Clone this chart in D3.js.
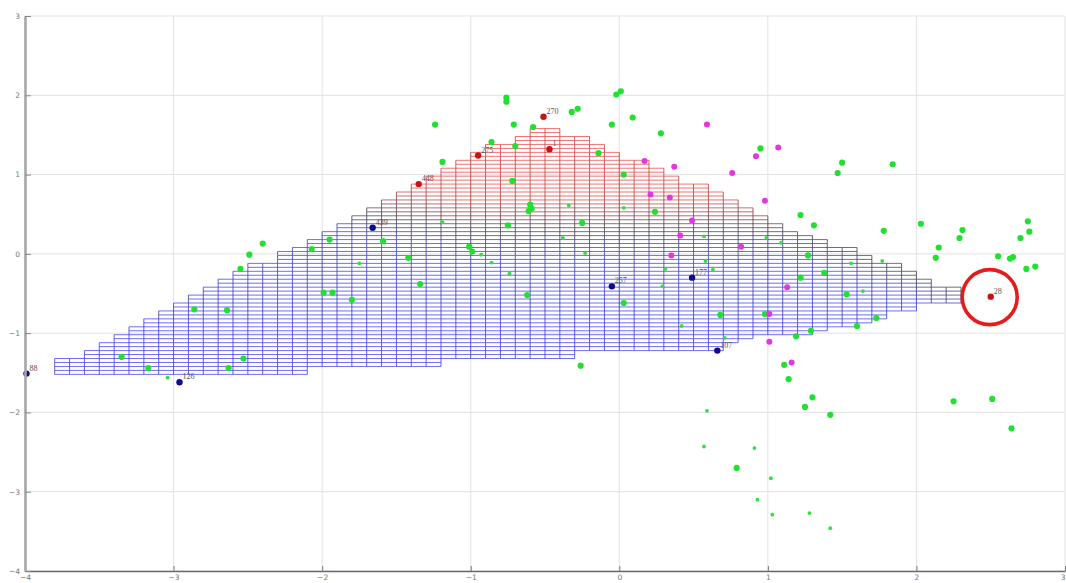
<!DOCTYPE html>
<html>
<head>
<meta charset="utf-8">
<script src="https://cdn.jsdelivr.net/npm/d3@7"></script>
<style>
  html, body { margin: 0; padding: 0; background: #ffffff; }
  svg { display: block; }
</style>
</head>
<body>
<svg id="chart" width="1066" height="583"></svg>
<script>
// ---- axis ticks ----
const xTicks = [-4, -3, -2, -1, 0, 1, 2, 3];
const yTicks = [-4, -3, -2, -1, 0, 1, 2, 3];

// ---- map grid: columns start at meshX0 (width meshDx), rows start at meshY0 (height meshDy) ----
const meshX0 = -3.8, meshDx = 0.1, meshY0 = -1.52, meshDy = 0.05;
const meshTop = [-1.32, -1.32, -1.22, -1.12, -1.02, -0.92, -0.82, -0.72, -0.62, -0.52,
                 -0.42, -0.32, -0.22, -0.12, -0.12, 0.03, 0.08, 0.18, 0.28, 0.38,
                 0.48, 0.58, 0.68, 0.78, 0.88, 0.98, 1.08, 1.18, 1.28, 1.38,
                 1.38, 1.48, 1.58, 1.58, 1.48, 1.48, 1.38, 1.28, 1.18, 1.18,
                 1.08, 0.98, 0.88, 0.88, 0.78, 0.68, 0.58, 0.48, 0.38, 0.28,
                 0.23, 0.18, 0.08, 0.08, -0.02, -0.12, -0.12, -0.22, -0.32, -0.42,
                 -0.42];
const meshBottom = [-1.52, -1.52, -1.52, -1.52, -1.52, -1.52, -1.52, -1.52, -1.52, -1.52,
                    -1.52, -1.52, -1.52, -1.52, -1.52, -1.52, -1.52, -1.42, -1.42, -1.42,
                    -1.42, -1.42, -1.42, -1.42, -1.42, -1.42, -1.32, -1.32, -1.32, -1.32,
                    -1.32, -1.32, -1.32, -1.32, -1.32, -1.22, -1.22, -1.22, -1.22, -1.22,
                    -1.22, -1.22, -1.22, -1.22, -1.22, -1.12, -1.07, -1.02, -1.02, -1.02,
                    -1.02, -0.97, -0.92, -0.92, -0.87, -0.82, -0.72, -0.72, -0.62, -0.62,
                    -0.62];

// ---- samples ----
const greenX = [-0.76, -0.76, -1.24, -0.71, -0.58, -0.32, -0.28, -0.02, 0.01, -0.05,
                0.09, 0.28, -0.86, -0.70, -1.19, -0.14, 0.03, -0.72, -0.60, -0.59,
                -0.61, 0.24, -0.75, -0.25, -1.59, -1.01, -0.99, -1.42, -1.34, -0.62,
                0.03, -0.26, -2.40, -2.49, -2.55, -2.86, -2.64, -3.35, -3.17, -2.63,
                -2.53, -2.07, -1.95, -1.99, -1.93, -1.80, 0.95, 1.50, 1.47, 1.84,
                1.22, 1.31, 1.78, 2.03, 2.31, 2.29, 2.75, 2.76, 2.70, 2.15,
                2.13, 2.55, 2.63, 2.65, 2.74, 2.80, 1.27, 1.38, 1.22, 1.53,
                1.73, 1.60, 0.68, 0.98, 1.19, 1.29, 1.11, 1.14, 1.30, 1.25,
                1.42, 0.79, 2.25, 2.51, 2.64];
const greenY = [1.97, 1.92, 1.63, 1.63, 1.60, 1.79, 1.83, 2.01, 2.05, 1.63,
                1.72, 1.52, 1.41, 1.36, 1.16, 1.27, 1.00, 0.92, 0.62, 0.57,
                0.54, 0.53, 0.36, 0.39, 0.16, 0.09, 0.03, -0.05, -0.38, -0.52,
                -0.62, -1.41, 0.13, -0.01, -0.19, -0.70, -0.71, -1.30, -1.44, -1.44,
                -1.32, 0.06, 0.18, -0.49, -0.49, -0.58, 1.33, 1.15, 1.02, 1.13,
                0.49, 0.36, 0.29, 0.38, 0.30, 0.20, 0.41, 0.28, 0.20, 0.08,
                -0.05, -0.03, -0.06, -0.04, -0.19, -0.16, -0.02, -0.24, -0.30, -0.51,
                -0.81, -0.91, -0.77, -0.76, -1.04, -0.97, -1.40, -1.58, -1.81, -1.93,
                -2.03, -2.70, -1.86, -1.83, -2.20];

const greenSmallX = [-0.34, 0.03, -1.19, -0.38, 0.57, -0.93, -0.86, -0.23, 0.58, -0.74,
                     0.31, 0.29, 0.42, -3.04, -1.75, 0.99, 1.09, 0.63, 1.64, 1.77,
                     1.56, 0.71, 0.59, 0.57, 0.91, 1.02, 0.93, 1.03, 1.28, 1.42];
const greenSmallY = [0.61, 0.58, 0.40, 0.20, 0.22, -0.01, -0.11, 0.01, -0.09, -0.25,
                     -0.19, -0.41, -0.91, -1.56, -0.12, 0.20, 0.14, -0.20, -0.47, -0.09,
                     -0.12, -1.06, -1.98, -2.43, -2.45, -2.83, -3.10, -3.29, -3.27, -3.46];

const magentaX = [0.59, 0.17, 0.37, 0.21, 0.34, 0.49, 0.41, 0.35, 1.07, 0.92,
                  0.76, 0.98, 0.82, 1.01, 1.01, 1.16, 1.13];
const magentaY = [1.63, 1.17, 1.10, 0.75, 0.71, 0.42, 0.23, -0.02, 1.34, 1.23,
                  1.02, 0.67, 0.09, -0.76, -1.11, -1.37, -0.42];

const blueIds = ["88", "126", "439", "257", "177", "107"];
const blueX = [-3.99, -2.96, -1.66, -0.05, 0.49, 0.66];
const blueY = [-1.51, -1.62, 0.33, -0.41, -0.30, -1.22];

const redIds = ["448", "275", "270", "1", "28"];
const redX = [-1.35, -0.95, -0.51, -0.47, 2.50];
const redY = [0.88, 1.24, 1.73, 1.32, -0.54];

const highlightId = "28";

// ---- layout ----
const svg = d3.select("#chart");
const x = d3.scaleLinear().domain([-4, 3]).range([25, 1065]);
const y = d3.scaleLinear().domain([-4, 3]).range([571, 16]);

// grid lines
const grid = svg.append("g").attr("stroke", "#e2e2e2").attr("stroke-width", 1);
grid.selectAll("line.gx").data(xTicks).join("line").attr("class", "gx")
  .attr("x1", d => x(d)).attr("x2", d => x(d)).attr("y1", y(-4)).attr("y2", y(3));
grid.selectAll("line.gy").data(yTicks).join("line").attr("class", "gy")
  .attr("y1", d => y(d)).attr("y2", d => y(d)).attr("x1", x(-4)).attr("x2", x(3));

// ---- mesh ----
const nCols = meshTop.length;
const rowOf = v => Math.round((v - meshY0) / meshDy);
const rowY = k => meshY0 + k * meshDy;
const meshColor = d3.scaleLinear()
  .domain([-0.05, 0.3, 0.75])
  .range(["#4a4af6", "#4c4c5a", "#ee5050"])
  .interpolate(d3.interpolateRgb)
  .clamp(true);
const tone = (cx, cy) => cy - 0.3 * Math.max(0, -1.0 - cx) + 0.7 * Math.max(0, cx - 1.2);

const hSegs = [];
for (let i = 0; i < nCols; i++) {
  const x0 = meshX0 + i * meshDx, x1 = x0 + meshDx;
  for (let k = rowOf(meshBottom[i]); k <= rowOf(meshTop[i]); k++) {
    const yy = rowY(k);
    hSegs.push({ x0, x1, y: yy, c: meshColor(tone(x0 + meshDx / 2, yy)) });
  }
}
const vSegs = [];
for (let j = 0; j <= nCols; j++) {
  const xb = meshX0 + j * meshDx;
  const nb = [j - 1, j].filter(i => i >= 0 && i < nCols);
  const kb = d3.min(nb, i => rowOf(meshBottom[i]));
  const kt = d3.max(nb, i => rowOf(meshTop[i]));
  for (let k = kb; k < kt; k++) {
    const ym = rowY(k + 0.5);
    vSegs.push({ x: xb, y0: rowY(k), y1: rowY(k + 1),
                 c: d3.rgb(meshColor(tone(xb, ym))).darker(0.7).formatHex() });
  }
}
const mesh = svg.append("g").attr("stroke-width", 0.9).attr("stroke-opacity", 0.9);
mesh.selectAll("line.h").data(hSegs).join("line").attr("class", "h")
  .attr("x1", d => x(d.x0)).attr("x2", d => x(d.x1))
  .attr("y1", d => y(d.y)).attr("y2", d => y(d.y))
  .attr("stroke", d => d.c);
mesh.selectAll("line.v").data(vSegs).join("line").attr("class", "v")
  .attr("x1", d => x(d.x)).attr("x2", d => x(d.x))
  .attr("y1", d => y(d.y0)).attr("y2", d => y(d.y1))
  .attr("stroke", d => d.c);

// ---- sample points ----
const pts = svg.append("g");
pts.selectAll("circle.gs").data(d3.range(greenSmallX.length)).join("circle").attr("class", "gs")
  .attr("cx", i => x(greenSmallX[i])).attr("cy", i => y(greenSmallY[i]))
  .attr("r", 1.9).attr("fill", "#33dd44");
pts.selectAll("circle.g").data(d3.range(greenX.length)).join("circle").attr("class", "g")
  .attr("cx", i => x(greenX[i])).attr("cy", i => y(greenY[i]))
  .attr("r", 3.1).attr("fill", "#22e030");
pts.selectAll("circle.m").data(d3.range(magentaX.length)).join("circle").attr("class", "m")
  .attr("cx", i => x(magentaX[i])).attr("cy", i => y(magentaY[i]))
  .attr("r", 3).attr("fill", "#e535e0");

// labelled samples
const labelled = [];
blueIds.forEach((id, i) => labelled.push({ id, vx: blueX[i], vy: blueY[i], c: "#0c0c8c" }));
redIds.forEach((id, i) => labelled.push({ id, vx: redX[i], vy: redY[i], c: "#c41414" }));

pts.selectAll("circle.l").data(labelled).join("circle").attr("class", "l")
  .attr("cx", d => x(d.vx)).attr("cy", d => y(d.vy))
  .attr("r", 3.2).attr("fill", d => d.c);
pts.selectAll("text.l").data(labelled).join("text").attr("class", "l")
  .attr("x", d => x(d.vx) + 3).attr("y", d => y(d.vy) - 3)
  .attr("font-family", "Liberation Serif, serif").attr("font-size", 8)
  .attr("fill", "#555")
  .text(d => d.id);

// highlight ring
const hi = labelled.find(d => d.id === highlightId);
svg.append("circle")
  .attr("cx", x(hi.vx) - 1).attr("cy", y(hi.vy) + 0.5).attr("r", 27.5)
  .attr("fill", "none").attr("stroke", "#e41c1c").attr("stroke-width", 3.6);

// ---- axes ----
const xAxis = svg.append("g").attr("transform", `translate(0,${y(-4)})`)
  .call(d3.axisBottom(x).tickValues(xTicks).tickSize(-5).tickSizeOuter(0).tickPadding(4).tickFormat(d3.format("d")));
xAxis.select(".domain").attr("stroke", "#6a6a6a").attr("stroke-width", 1.3);
xAxis.selectAll(".tick line").attr("stroke", "#777");
xAxis.selectAll("text").attr("font-family", "DejaVu Sans, sans-serif").attr("font-size", 7.5).attr("fill", "#777")
  .attr("text-anchor", d => d === xTicks[xTicks.length - 1] ? "end" : "middle")
  .attr("dx", d => d === xTicks[xTicks.length - 1] ? 0 : null);

const yAxis = svg.append("g").attr("transform", `translate(${x(-4)},0)`)
  .call(d3.axisLeft(y).tickValues(yTicks).tickSize(-6).tickSizeOuter(0).tickPadding(5).tickFormat(d3.format("d")));
yAxis.select(".domain").attr("stroke", "#a8a8a8").attr("stroke-width", 2.6);
yAxis.selectAll(".tick line").attr("stroke", "#888");
yAxis.selectAll("text").attr("font-family", "DejaVu Sans, sans-serif").attr("font-size", 7.5).attr("fill", "#777");
</script>
</body>
</html>
